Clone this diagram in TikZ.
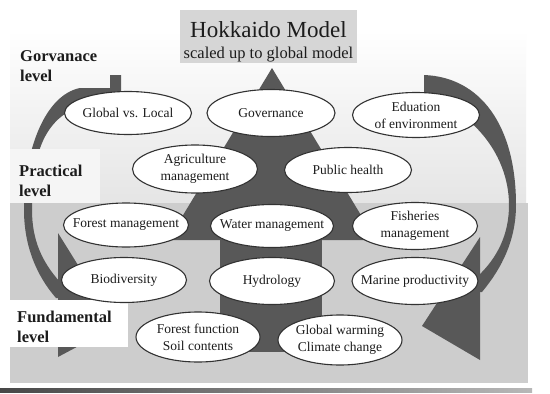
\documentclass[tikz,border=0pt]{standalone}
\usepackage{fontspec}
\setmainfont{Liberation Serif}
\usetikzlibrary{shapes.geometric}
\definecolor{shapegray}{RGB}{88,88,88}
\definecolor{lowbg}{RGB}{205,205,205}
\definecolor{upbgtop}{RGB}{255,255,255}
\definecolor{upbgbot}{RGB}{229,229,229}
\definecolor{titlebg}{RGB}{214,214,214}
\definecolor{edgegray}{RGB}{50,50,50}
\definecolor{inkgray}{RGB}{28,28,28}
\begin{document}
\begin{tikzpicture}[x=1pt,y=-1pt,
  bubble/.style={ellipse, draw=edgegray, line width=1.1pt, fill=white,
    inner xsep=-40pt, inner ysep=-12pt, align=center, text=inkgray,
    font=\fontsize{13.5}{17}\selectfont},
  lvl/.style={anchor=base west, inner sep=0pt, text=inkgray,
    font=\bfseries\fontsize{16.5}{20}\selectfont},
  blob/.style={fill=shapegray, draw=none}]
\useasboundingbox (0,0) rectangle (550,394);
\fill[white] (0,0) rectangle (550,394);
% backgrounds
\shade[top color=upbgtop, bottom color=upbgbot] (10,30) rectangle (526,203);
\fill[lowbg] (10,203) rectangle (528,383);
\shade[left color=black!72, right color=black!28] (0,388.5) rectangle (532,392.5);
% title
\fill[titlebg] (180,10) rectangle (357,63);
\node[anchor=base, inner sep=0pt, text=inkgray, font=\fontsize{23}{26}\selectfont] (t1) at (268.5,37) {Hokkaido Model};
\node[anchor=base, inner sep=0pt, text=inkgray, font=\fontsize{16.5}{18}\selectfont] (t2) at (268.5,58) {scaled up to global model};
% central shape
\fill[blob] (272,68) -- (376,240) -- (168,240) -- cycle;
\fill[blob] (220,238) rectangle (322,352);
% right curved arrow
\fill[blob] (424,75) .. controls (480,77) and (516,125) .. (516,205)
  .. controls (516,240) and (502,268) .. (482,292) -- (478,292) -- (478,276)
  .. controls (497,258) and (509,235) .. (509,205)
  .. controls (509,150) and (465,105) .. (424,100) -- cycle;
\fill[blob] (480,237) -- (480,360) -- (422,326) -- cycle;
% left curved arrow
\fill[blob] (110,75) -- (121,75) -- (121,100)
  .. controls (50,100) and (32,140) .. (32,210)
  .. controls (32,240) and (42,262) .. (60,282) -- (60,298) -- (56,298)
  .. controls (36,275) and (24,245) .. (24,210)
  .. controls (24,150) and (45,95) .. (80,88) -- (110,88) -- cycle;
\fill[blob] (58,233) -- (58,357) -- (116,326) -- cycle;
% level label boxes
\fill[white!96!black] (10,149) rectangle (100,203);
\fill[white] (10,300) rectangle (128,347);
% ellipses
\node[bubble, minimum width=127pt, minimum height=43pt] (gl) at (128,113) {Global vs. Local};
\node[bubble, minimum width=128pt, minimum height=47pt] (gov) at (271,113) {Governance};
\node[bubble, minimum width=127pt, minimum height=45pt] (edu) at (416,115) {Eduation\\of environment};
\node[bubble, minimum width=125pt, minimum height=48pt] (agr) at (195,169) {Agriculture\\management};
\node[bubble, minimum width=127pt, minimum height=45pt] (ph) at (348,170) {Public health};
\node[bubble, minimum width=125pt, minimum height=44pt] (fm) at (126,225) {Forest management};
\node[bubble, minimum width=123pt, minimum height=43pt] (wm) at (272,226) {Water management};
\node[bubble, minimum width=125pt, minimum height=47pt] (fish) at (415,226) {Fisheries\\management};
\node[bubble, minimum width=125pt, minimum height=45pt] (bio) at (124,280) {Biodiversity};
\node[bubble, minimum width=125pt, minimum height=47pt] (hyd) at (272,281) {Hydrology};
\node[bubble, minimum width=126pt, minimum height=47pt] (mar) at (415,281) {Marine productivity};
\node[bubble, minimum width=124pt, minimum height=50pt] (ff) at (198,337) {Forest function\\Soil contents};
\node[bubble, minimum width=124pt, minimum height=50pt] (gw) at (340,340) {Global warming\\Climate change};
% level labels
\node[lvl] (gov1) at (20,61) {Gorvanace};
\node[lvl] (gov2) at (20,81) {level};
\node[lvl] (pra1) at (19,176) {Practical};
\node[lvl] (pra2) at (19,196) {level};
\node[lvl] (fun1) at (17,322) {Fundamental};
\node[lvl] (fun2) at (17,342) {level};
\end{tikzpicture}
\end{document}
